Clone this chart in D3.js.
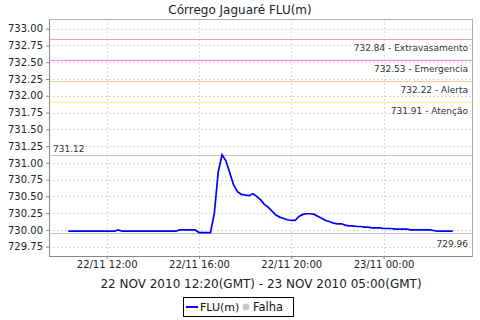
<!DOCTYPE html>
<html>
<head>
    <title>Córrego Jaguaré FLU(m)</title>
    <script src="https://d3js.org/d3.v7.min.js"></script>
    <style>
        body { margin: 0; background: #fff; }
        svg { display: block; font-family: 'DejaVu Sans', sans-serif; }
    </style>
</head>
<body>
    <svg id="chart" width="480" height="320"></svg>

    <script>
        // readings every 10 minutes, 22/11 10:20 -> 23/11 03:00 (local time)
        var startTime = new Date(2010, 10, 22, 10, 20);
        var levels = [
            729.98, 729.98, 729.98, 729.98,
            729.98, 729.98, 729.98, 729.98, 729.98, 729.98,
            729.98, 729.98, 729.98, 730.00, 729.98, 729.98,
            729.98, 729.98, 729.98, 729.98, 729.98, 729.98,
            729.98, 729.98, 729.98, 729.98, 729.98, 729.98,
            729.98, 730.00, 730.00, 730.00, 730.00, 730.00,
            729.96, 729.96, 729.96, 729.96, 730.25, 730.86,
            731.12, 731.03, 730.85, 730.67, 730.57, 730.53,
            730.52, 730.51, 730.54, 730.50, 730.45, 730.38,
            730.34, 730.28, 730.22, 730.19, 730.17, 730.15,
            730.14, 730.14, 730.20, 730.23, 730.24, 730.24,
            730.23, 730.20, 730.17, 730.14, 730.12, 730.10,
            730.09, 730.09, 730.07, 730.06, 730.06, 730.05,
            730.05, 730.04, 730.04, 730.03, 730.03, 730.03,
            730.02, 730.02, 730.02, 730.01, 730.01, 730.01,
            730.01, 730.00, 730.00, 730.00, 730.00, 730.00,
            730.00, 729.99, 729.98, 729.98, 729.98, 729.98,
            729.98
        ];

        var thresholdValues = [732.84, 732.53, 732.22, 731.91];
        var thresholdNames = ["Extravasamento", "Emergencia", "Alerta", "Atenção"];
        var thresholdColors = ["#f4a0a0", "#ff80ff", "#ffc890", "#fff080"];

        var yTicks = [729.75, 730.00, 730.25, 730.50, 730.75, 731.00, 731.25,
                      731.50, 731.75, 732.00, 732.25, 732.50, 732.75, 733.00];
        var xTicks = [new Date(2010, 10, 22, 12, 0), new Date(2010, 10, 22, 16, 0),
                      new Date(2010, 10, 22, 20, 0), new Date(2010, 10, 23, 0, 0)];

        var data = levels.map(function(v, i) {
            return { t: new Date(startTime.getTime() + i * 600000), v: v };
        });

        var svg = d3.select("#chart");
        var plotL = 49, plotR = 472, plotT = 19, plotB = 256;

        var t0 = data[0].t, t1 = data[data.length - 1].t;
        var pad = (t1 - t0) * 0.05;
        var x = d3.scaleTime()
                  .domain([new Date(+t0 - pad), new Date(+t1 + pad)])
                  .range([plotL, plotR]);
        var y = d3.scaleLinear().domain([729.61, 733.145]).range([plotB, plotT]);

        // title
        svg.append("text")
           .attr("x", 240).attr("y", 14)
           .attr("text-anchor", "middle")
           .attr("font-size", "12px")
           .attr("fill", "#222")
           .text("Córrego Jaguaré FLU(m)");

        // grid
        svg.append("g").selectAll("line").data(yTicks).enter().append("line")
           .attr("x1", plotL).attr("x2", plotR)
           .attr("y1", function(d) { return Math.round(y(d)) + 0.5; })
           .attr("y2", function(d) { return Math.round(y(d)) + 0.5; })
           .attr("stroke", "#d8d8d8").attr("stroke-dasharray", "2,2");
        svg.append("g").selectAll("line").data(xTicks).enter().append("line")
           .attr("y1", plotT).attr("y2", plotB)
           .attr("x1", function(d) { return Math.round(x(d)) + 0.5; })
           .attr("x2", function(d) { return Math.round(x(d)) + 0.5; })
           .attr("stroke", "#d8d8d8").attr("stroke-dasharray", "2,2");

        // plot border
        svg.append("rect")
           .attr("x", plotL + 0.5).attr("y", plotT + 0.5)
           .attr("width", plotR - plotL).attr("height", plotB - plotT)
           .attr("fill", "none").attr("stroke", "#b0b0b0");

        // thresholds
        thresholdValues.forEach(function(v, i) {
            var yy = Math.round(y(v)) + 0.5;
            svg.append("line")
               .attr("x1", plotL).attr("x2", plotR)
               .attr("y1", yy).attr("y2", yy)
               .attr("stroke", thresholdColors[i]).attr("stroke-width", 1.2);
            svg.append("text")
               .attr("x", plotR - 4).attr("y", yy + 11)
               .attr("text-anchor", "end")
               .attr("font-size", "9px").attr("fill", "#333")
               .text(d3.format(".2f")(v) + " - " + thresholdNames[i]);
        });

        // max and min markers
        var maxV = d3.max(levels), minV = d3.min(levels);
        var yMax = Math.round(y(maxV)) + 0.5, yMin = Math.round(y(minV)) + 0.5;
        svg.append("line").attr("x1", plotL).attr("x2", plotR)
           .attr("y1", yMax).attr("y2", yMax).attr("stroke", "#c0c0c0");
        svg.append("line").attr("x1", plotL).attr("x2", plotR)
           .attr("y1", yMin).attr("y2", yMin).attr("stroke", "#c0c0c0");
        svg.append("text").attr("x", plotL + 4).attr("y", yMax - 4)
           .attr("font-size", "9px").attr("fill", "#333")
           .text(d3.format(".2f")(maxV));
        svg.append("text").attr("x", plotR - 4).attr("y", yMin + 13)
           .attr("text-anchor", "end")
           .attr("font-size", "9px").attr("fill", "#333")
           .text(d3.format(".2f")(minV));

        // axes
        var yAxis = svg.append("g")
           .attr("transform", "translate(" + plotL + ",0)")
           .call(d3.axisLeft(y).tickValues(yTicks).tickFormat(d3.format(".2f"))
                 .tickSizeInner(3).tickSizeOuter(0).tickPadding(3));
        var xAxis = svg.append("g")
           .attr("transform", "translate(0," + plotB + ")")
           .call(d3.axisBottom(x).tickValues(xTicks).tickFormat(d3.timeFormat("%d/%m %H:%M"))
                 .tickSizeInner(3).tickSizeOuter(0).tickPadding(2));
        [yAxis, xAxis].forEach(function(g) {
            g.select(".domain").attr("stroke", "#888");
            g.selectAll(".tick line").attr("stroke", "#888");
            g.selectAll("text").attr("font-family", "'DejaVu Sans', sans-serif")
             .attr("font-size", "10px").attr("fill", "#222");
        });

        svg.append("text")
           .attr("x", 261).attr("y", 288)
           .attr("text-anchor", "middle")
           .attr("font-size", "12px").attr("fill", "#222")
           .text("22 NOV 2010 12:20(GMT) - 23 NOV 2010 05:00(GMT)");

        // series
        var line = d3.line()
                     .x(function(d) { return x(d.t); })
                     .y(function(d) { return y(d.v); });
        svg.append("path").datum(data)
           .attr("d", line)
           .attr("fill", "none").attr("stroke", "#0000ff").attr("stroke-width", 1.7);

        // legend
        var lg = svg.append("g");
        lg.append("rect").attr("x", 183.5).attr("y", 297.5)
          .attr("width", 110).attr("height", 19)
          .attr("fill", "#fff").attr("stroke", "#000");
        lg.append("line").attr("x1", 186).attr("x2", 198)
          .attr("y1", 307).attr("y2", 307)
          .attr("stroke", "#0000ff").attr("stroke-width", 2);
        lg.append("text").attr("x", 200).attr("y", 311)
          .attr("font-size", "11px").attr("fill", "#111").text("FLU(m)");
        lg.append("circle").attr("cx", 246).attr("cy", 307).attr("r", 3.5)
          .attr("fill", "#c8c8c8");
        lg.append("text").attr("x", 253).attr("y", 311)
          .attr("font-size", "11.5px").attr("fill", "#111").text("Falha");
    </script>
</body>
</html>
